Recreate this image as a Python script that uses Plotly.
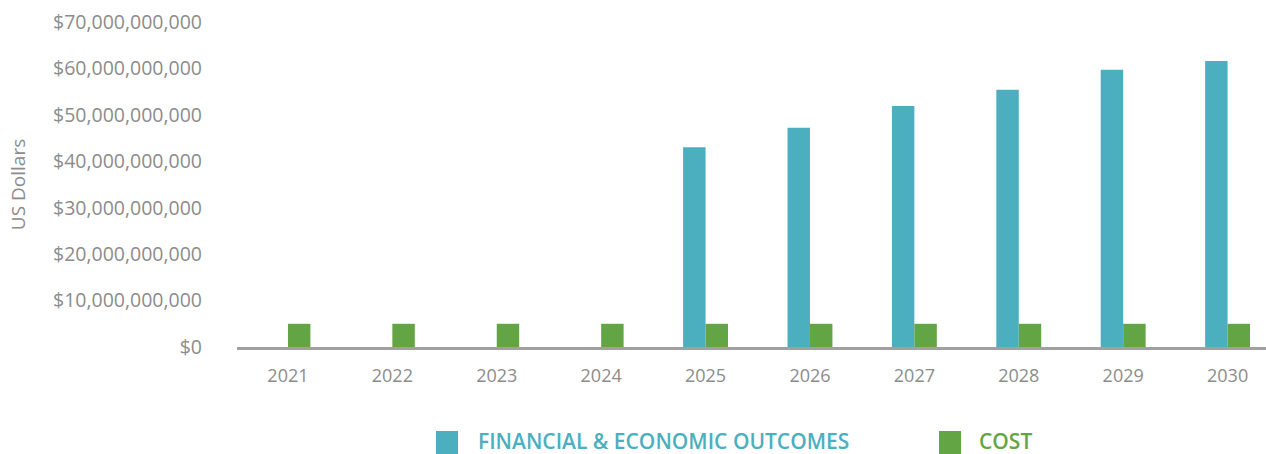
import plotly.graph_objects as go

# Chart data
years = ["2021", "2022", "2023", "2024", "2025", "2026", "2027", "2028", "2029", "2030"]
outcomes = [0, 0, 0, 0, 43.0e9, 47.2e9, 51.9e9, 55.4e9, 59.7e9, 61.6e9]
cost = [5.0e9] * 10
series_names = ["FINANCIAL & ECONOMIC OUTCOMES", "COST"]
y_ticks = [0, 10e9, 20e9, 30e9, 40e9, 50e9, 60e9, 70e9]
y_tick_labels = ["$0", "$10,000,000,000", "$20,000,000,000", "$30,000,000,000",
                 "$40,000,000,000", "$50,000,000,000", "$60,000,000,000", "$70,000,000,000"]

TEAL = "#4BAFBF"
GREEN = "#63A544"
GRAY = "#8C8C8C"
FONT = "Open Sans"

W, H = 1266, 454
M_L, M_R, M_T, M_B = 237, 0, 22, 107
plot_w = W - M_L - M_R
plot_h = H - M_T - M_B

fig = go.Figure()
fig.add_trace(go.Bar(x=years, y=outcomes, name=series_names[0],
                     marker=dict(color=TEAL, line=dict(width=0)), showlegend=False))
fig.add_trace(go.Bar(x=years, y=cost, name=series_names[1],
                     marker=dict(color=GREEN, line=dict(width=0)), showlegend=False))


def px_x(px):
    return (px - M_L) / plot_w


def px_y(py):
    return (M_T + plot_h - py) / plot_h


# Legend drawn below the plot: colored square + colored label per series
legend_items = [
    (436, 476, series_names[0], TEAL),
    (939, 977, series_names[1], GREEN),
]
shapes = []
annotations = []
for sq_x, txt_x, label, color in legend_items:
    shapes.append(dict(type="rect", xref="paper", yref="paper",
                       x0=px_x(sq_x), x1=px_x(sq_x + 22),
                       y0=px_y(454), y1=px_y(431),
                       fillcolor=color, line=dict(width=0)))
    annotations.append(dict(xref="paper", yref="paper", x=px_x(txt_x), y=px_y(441),
                            xanchor="left", yanchor="middle", showarrow=False,
                            text=label,
                            font=dict(family=FONT, size=21, color=color, weight=600)))

fig.update_layout(
    width=W, height=H,
    margin=dict(l=M_L, r=M_R, t=M_T, b=M_B, autoexpand=False),
    paper_bgcolor="white", plot_bgcolor="white",
    barmode="group", bargap=0.57, bargroupgap=0,
    showlegend=False,
    font=dict(family=FONT, color=GRAY),
    shapes=shapes, annotations=annotations,
    xaxis=dict(
        type="category", range=[-0.488, 9.368],
        showgrid=False, zeroline=False,
        showline=True, linecolor="#A0A0A0", linewidth=3,
        ticks="", tickfont=dict(family=FONT, size=18, color=GRAY),
        ticklabelstandoff=10,
    ),
    yaxis=dict(
        range=[0, 70e9], showgrid=False, zeroline=False, showline=False,
        tickmode="array", tickvals=y_ticks, ticktext=y_tick_labels,
        tickfont=dict(family=FONT, size=19.5, color=GRAY),
        ticks="", ticklabelstandoff=34,
        title=dict(text="US Dollars", font=dict(family=FONT, size=19, color=GRAY), standoff=22),
        automargin=False,
    ),
)

fig.write_html("out.html")
